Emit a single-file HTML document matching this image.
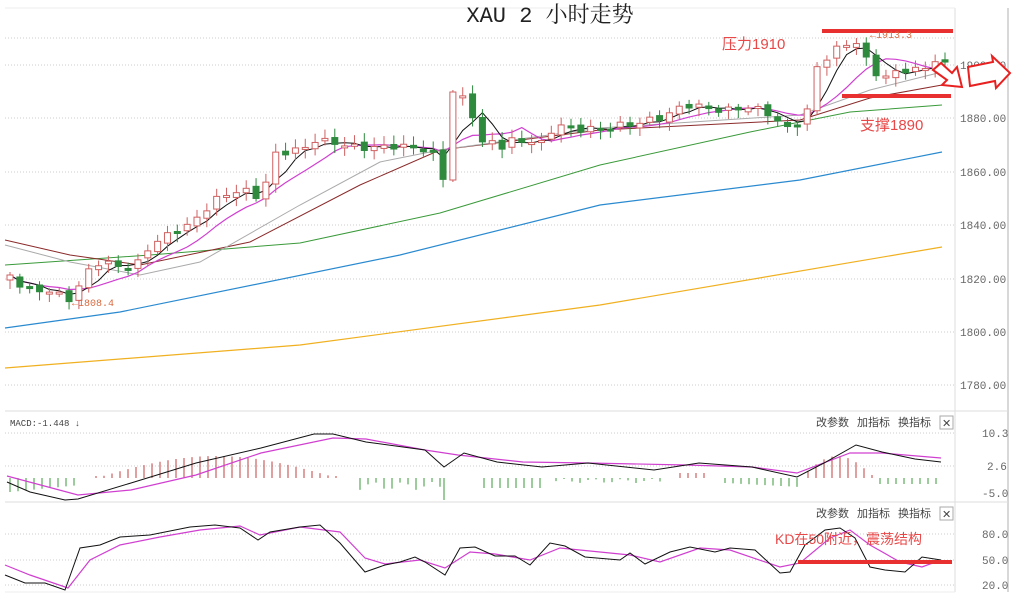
<!DOCTYPE html>
<html><head><meta charset="utf-8">
<style>
html,body{margin:0;padding:0;background:#fff;}
svg{display:block;font-family:"Liberation Mono","Noto Sans CJK SC",monospace;}
</style></head>
<body>
<svg id="c" width="1024" height="608" viewBox="0 0 1024 608" xmlns="http://www.w3.org/2000/svg">
<rect width="1024" height="608" fill="#fff"/>
<line x1="955" y1="8" x2="955" y2="592" stroke="#ddd" stroke-width="1"/>
<line x1="1008" y1="8" x2="1008" y2="592" stroke="#ccc" stroke-width="1.5"/>
<line x1="5" y1="8" x2="955" y2="8" stroke="#eee"/>
<line x1="5" y1="411" x2="1008" y2="411" stroke="#ddd"/>
<line x1="5" y1="502" x2="1008" y2="502" stroke="#ddd"/>
<line x1="5" y1="592" x2="955" y2="592" stroke="#eee"/>
<g id="grid" stroke="#ccc" stroke-dasharray="1,2" stroke-width="1"></g>
<g font-size="11" fill="#666" font-family="Liberation Mono,monospace">
<text x="960" y="69">1900.00</text>
<text x="960" y="122">1880.00</text>
<text x="960" y="176">1860.00</text>
<text x="960" y="229">1840.00</text>
<text x="960" y="283">1820.00</text>
<text x="960" y="336">1800.00</text>
<text x="960" y="389">1780.00</text>
<text x="982" y="437">10.3</text>
<text x="987" y="470">2.6</text>
<text x="982" y="497">-5.0</text>
<text x="982" y="538">80.0</text>
<text x="982" y="564">50.0</text>
<text x="982" y="589">20.0</text>
</g>
<text x="550" y="22" text-anchor="middle" font-size="22" fill="#222" font-family="Liberation Mono,'Noto Serif CJK SC',serif">XAU 2 小时走势</text>
<g id="ma"></g>
<g id="cd"></g>
<g id="ind"></g>
<line x1="822" y1="31" x2="953" y2="31" stroke="#e83030" stroke-width="4"/>
<line x1="842" y1="96" x2="951" y2="96" stroke="#e83030" stroke-width="4"/>
<text x="870" y="38" font-size="10" fill="#d86a40">←1913.3</text>
<text x="722" y="49" font-size="15" fill="#e84848" font-family="Liberation Sans,'Noto Sans CJK SC',sans-serif">压力1910</text>
<text x="860" y="130" font-size="15" fill="#e84848" font-family="Liberation Sans,'Noto Sans CJK SC',sans-serif">支撑1890</text>
<text x="72" y="306" font-size="10" fill="#d86a40">←1808.4</text>
<polygon points="933,70 941,63 952,73 957,67 962,87 942,85 947,80" fill="#fff" stroke="#e82020" stroke-width="2"/>
<polygon points="968,67 993,62 992,56 1010,73 996,88 995,81 970,86" fill="#fff" stroke="#e82020" stroke-width="2"/>
<g font-family="Liberation Sans,'Noto Sans CJK SC',sans-serif" font-size="11" fill="#444">
<text x="10" y="426" font-family="Liberation Mono,monospace" font-size="9">MACD:-1.448 ↓</text>
<text x="816" y="426">改参数</text><text x="857" y="426">加指标</text><text x="898" y="426">换指标</text>
<rect x="940" y="416" width="13" height="13" fill="none" stroke="#aaa"/><text x="942" y="427" font-size="11">✕</text>
<text x="816" y="517">改参数</text><text x="857" y="517">加指标</text><text x="898" y="517">换指标</text>
<rect x="940" y="507" width="13" height="13" fill="none" stroke="#aaa"/><text x="942" y="518" font-size="11">✕</text>
</g>
<line x1="798" y1="562" x2="952" y2="562" stroke="#e83030" stroke-width="4"/>
<text x="775" y="544" font-size="14" fill="#e84848" font-family="Liberation Sans,'Noto Sans CJK SC',sans-serif">KD在50附近，震荡结构</text>
</svg>
<script>
(function(){
var NS="http://www.w3.org/2000/svg";
function el(p,t,a){var e=document.createElementNS(NS,t);for(var k in a)e.setAttribute(k,a[k]);document.getElementById(p).appendChild(e);return e;}
[38,65,118,172,225,279,332,385,433,466,534,560,585].forEach(function(y){el("grid","line",{x1:5,y1:y,x2:955,y2:y});});
function interp(pts,x){for(var i=0;i<pts.length-1;i++){if(x>=pts[i][0]&&x<=pts[i+1][0]){var t=(x-pts[i][0])/(pts[i+1][0]-pts[i][0]);return pts[i][1]+t*(pts[i+1][1]-pts[i][1]);}}return x<pts[0][0]?pts[0][1]:pts[pts.length-1][1];}
function path(pts){return "M"+pts.map(function(p){return p[0].toFixed(1)+","+p[1].toFixed(1)}).join("L");}
var cl=[[10,275],[20,285],[30,290],[45,290],[60,295],[72,300],[80,285],[90,268],[100,262],[115,265],[125,268],[140,262],[150,245],[160,240],[175,230],[190,225],[200,215],[215,200],[225,195],[240,190],[250,192],[262,200],[272,155],[285,152],[295,150],[305,148],[315,140],[330,142],[345,145],[360,148],[380,147],[395,146],[410,147],[425,150],[435,155],[443,178],[452,95],[460,95],[468,105],[475,120],[483,145],[490,140],[500,148],[510,140],[520,142],[530,140],[540,145],[550,135],[555,120],[565,128],[575,130],[590,128],[600,130],[615,125],[630,125],[640,122],[650,120],[660,118],[672,112],[685,105],[695,105],[705,108],[715,110],[730,110],[745,107],[755,108],[765,112],[775,115],[780,128],[790,128],[800,120],[810,108],[815,68],[825,60],[835,50],[845,45],[850,40],[860,45],[865,60],[870,58],[875,75],[880,65],[885,78],[895,72],[900,70],[910,70],[918,70],[925,68],[935,60],[945,65]];
var N=96,xs=[],cs=[];
for(var i=0;i<N;i++){var x=10+i*(935/(N-1));xs.push(x);var n=Math.sin(i*2.3)*3;cs.push(interp(cl,x)+n);}
el("ma","path",{d:path([[5,368],[300,345],[600,305],[942,247]]),stroke:"#f0b020",fill:"none","stroke-width":1.2});
el("ma","path",{d:path([[5,328],[120,312],[400,255],[600,205],[800,180],[942,152]]),stroke:"#2a8ad0",fill:"none","stroke-width":1.2});
el("ma","path",{d:path([[5,265],[150,255],[300,243],[440,213],[600,165],[750,132],[850,112],[942,105]]),stroke:"#3a9a3a",fill:"none","stroke-width":1});
el("ma","path",{d:path([[5,240],[70,255],[140,265],[250,242],[360,185],[440,150],[600,130],[800,120],[870,98],[942,85]]),stroke:"#8b2a2a",fill:"none","stroke-width":1});
el("ma","path",{d:path([[5,245],[70,262],[140,275],[200,262],[300,205],[380,162],[440,150],[600,128],[800,115],[870,90],[942,72]]),stroke:"#aaa",fill:"none","stroke-width":1});
function sm(n){var r=[];for(var i=0;i<N;i++){var s=0,c=0;for(var j=Math.max(0,i-n+1);j<=i;j++){s+=cs[j];c++;}r.push([xs[i],s/c]);}return r;}
el("ma","path",{d:path(sm(8)),stroke:"#d040d0",fill:"none","stroke-width":1.2});
el("ma","path",{d:path(sm(4)),stroke:"#111",fill:"none","stroke-width":1});
for(var i=0;i<N;i++){var o=i?cs[i-1]+Math.sin(i*1.7)*2:cs[0]+5,c=cs[i];var up=c<o;
 var tp=Math.min(o,c),bt=Math.max(o,c);if(bt-tp<2){bt=tp+2;}
 var hi=tp-3-Math.abs(Math.sin(i*3.1))*6,lo=bt+3+Math.abs(Math.cos(i*2.2))*6;
 if(Math.abs(xs[i]-452)<5){hi=90;lo=182;tp=92;bt=180;up=true;}
 var col=up?"#d06060":"#2e8b3e";
 el("cd","line",{x1:xs[i],y1:hi,x2:xs[i],y2:lo,stroke:col,"stroke-width":1});
 el("cd","rect",{x:xs[i]-3,y:tp,width:6,height:bt-tp,fill:up?"#fff":col,stroke:col,"stroke-width":1});}
var zy=478;
function bars(a,b,h,col,step){for(var x=a;x<=b;x+=step){var v=h(x);el("ind","line",{x1:x,y1:zy,x2:x,y2:zy+v,stroke:col,"stroke-width":1});}}
bars(10,80,function(x){return 14-(x-10)*0.1;},"#3a9a3a",8);
bars(96,337,function(x){return -Math.max(2,22*Math.sin(Math.PI*(x-96)/241));},"#c04040",8);
bars(360,440,function(x){return 8+4*Math.sin(x);},"#3a9a3a",8);
el("ind","line",{x1:444,y1:zy,x2:444,y2:500,stroke:"#3a9a3a"});
bars(484,540,function(x){return 10;},"#3a9a3a",8);
bars(556,660,function(x){return 3+2*Math.sin(x);},"#3a9a3a",8);
bars(680,705,function(x){return -5;},"#c04040",8);
bars(725,800,function(x){return 5+4*((x-725)/75);},"#3a9a3a",8);
bars(808,872,function(x){return -Math.max(3,22*Math.sin(Math.PI*(x-800)/75));},"#c04040",8);
bars(880,941,function(x){return 6;},"#3a9a3a",8);
el("ind","path",{d:path([[7,476],[78,495],[131,490],[196,475],[261,453],[333,438],[366,439],[425,450],[458,455],[523,462],[588,463],[686,465],[752,467],[797,473],[850,453],[882,453],[941,458]]),stroke:"#d040d0",fill:"none","stroke-width":1.2});
el("ind","path",{d:path([[7,482],[30,492],[65,500],[78,499],[131,483],[196,463],[261,448],[314,434],[333,434],[366,442],[425,450],[444,467],[464,453],[497,462],[542,467],[588,463],[654,470],[699,463],[752,467],[797,477],[824,463],[856,445],[882,452],[915,459],[941,462]]),stroke:"#111",fill:"none","stroke-width":1});
el("ind","path",{d:path([[5,565],[30,575],[68,588],[90,560],[120,545],[160,537],[200,530],[240,526],[260,535],[300,527],[340,532],[365,558],[385,564],[420,560],[445,568],[470,552],[495,554],[530,560],[560,548],[600,552],[630,555],[660,562],[700,548],[730,550],[780,567],[800,563],[830,538],[850,530],[870,545],[900,562],[922,567],[941,560]]),stroke:"#d040d0",fill:"none","stroke-width":1.2});
el("ind","path",{d:path([[5,575],[25,583],[45,583],[65,590],[80,548],[100,545],[120,537],[150,535],[190,527],[215,525],[240,528],[258,540],[270,532],[300,527],[320,525],[340,543],[365,572],[385,565],[400,562],[415,557],[425,562],[445,575],[460,548],[475,547],[495,556],[515,556],[530,565],[550,543],[565,546],[585,557],[620,560],[630,553],[645,564],[670,552],[690,547],[715,552],[730,548],[755,550],[780,573],[790,572],[805,545],[825,530],[840,528],[855,538],[870,567],[885,570],[905,572],[922,557],[941,560]]),stroke:"#111",fill:"none","stroke-width":1});
})();
</script>
</body></html>
